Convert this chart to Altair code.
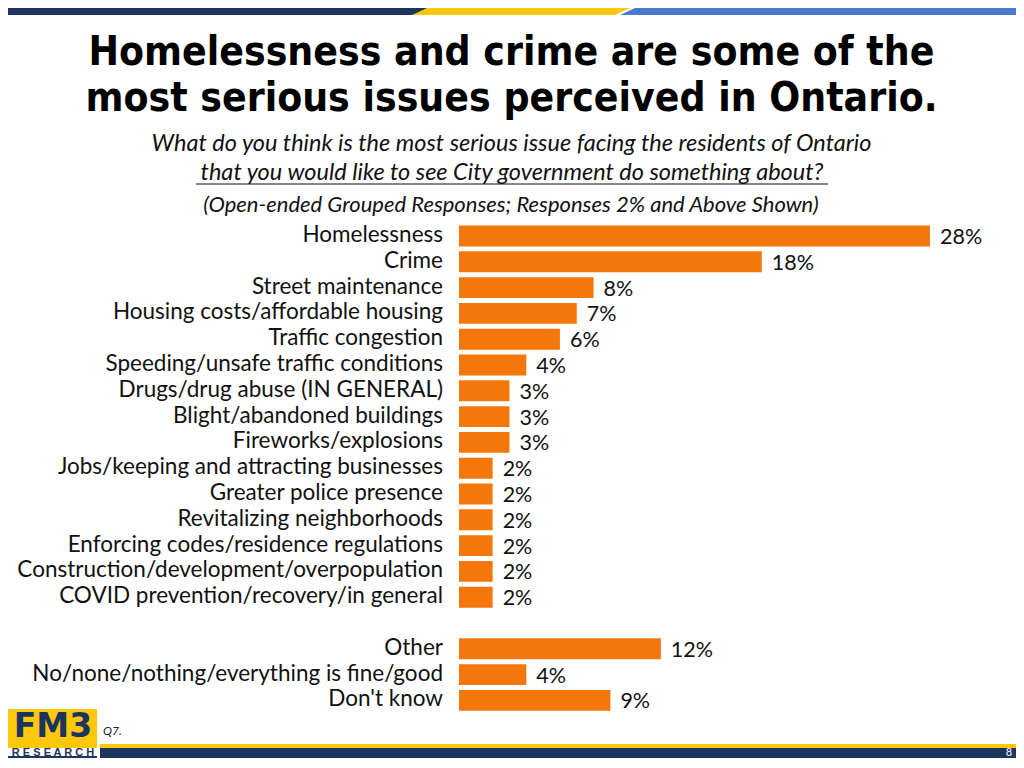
import altair as alt
import pandas as pd

# ---------------- data ----------------
categories = [
    "Homelessness",
    "Crime",
    "Street maintenance",
    "Housing costs/affordable housing",
    "Traffic congestion",
    "Speeding/unsafe traffic conditions",
    "Drugs/drug abuse (IN GENERAL)",
    "Blight/abandoned buildings",
    "Fireworks/explosions",
    "Jobs/keeping and attracting businesses",
    "Greater police presence",
    "Revitalizing neighborhoods",
    "Enforcing codes/residence regulations",
    "Construction/development/overpopulation",
    "COVID prevention/recovery/in general",
]
values = [28, 18, 8, 7, 6, 4, 3, 3, 3, 2, 2, 2, 2, 2, 2]

other_categories = ["Other", "No/none/nothing/everything is fine/good", "Don't know"]
other_values = [12, 4, 9]

title_lines = ["Homelessness and crime are some of the",
               "most serious issues perceived in Ontario."]
question_line1 = "What do you think is the most serious issue facing the residents of Ontario"
question_line2 = "that you would like to see City government do something about?"
note_line = "(Open-ended Grouped Responses; Responses 2% and Above Shown)"
footnote = "Q7."
page_number = "8"

# ---------------- styles ----------------
NAVY = "#1C355E"
YELLOW = "#FDC70C"
BLUE = "#4A7BC8"
ORANGE = "#F5760A"
TITLE_FONT = "DejaVu Sans Condensed, DejaVu Sans"
BODY_FONT = "Lato"

W, H = 1008, 750

spacer = " "
domain = categories + [spacer] + other_categories

df = pd.DataFrame({"category": categories + other_categories,
                   "value": values + other_values})
df["label"] = df["value"].astype(str) + "%"

one = pd.DataFrame({"k": [0]})

y_scale = alt.Scale(domain=domain, range=[215.1, 705.3],
                    paddingInner=0.19, paddingOuter=0.095)
x_scale = alt.Scale(domain=[0, 28], range=[451, 922])

base = alt.Chart(df)

bars = base.mark_bar(color=ORANGE).encode(
    x=alt.X("value:Q", scale=x_scale, axis=None),
    y=alt.Y("category:N", scale=y_scale, axis=None),
)

value_text = base.mark_text(align="left", baseline="middle", dx=10, dy=2,
                            font=BODY_FONT, fontSize=21.5, color="#111111").encode(
    x=alt.X("value:Q", scale=x_scale, axis=None),
    y=alt.Y("category:N", scale=y_scale, axis=None),
    text="label:N",
)

cat_text = base.mark_text(align="right", baseline="middle", dy=-1,
                          font=BODY_FONT, fontSize=22.5, color="#111111").encode(
    x=alt.value(435),
    y=alt.Y("category:N", scale=y_scale, axis=None),
    text="category:N",
)


def txt(s, x, y, **kw):
    return alt.Chart(one).mark_text(text=s, **kw).encode(x=alt.value(x), y=alt.value(y))


def rect(x, x2, y, y2, color):
    return alt.Chart(one).mark_rect(color=color, opacity=1).encode(
        x=alt.value(x), x2=alt.value(x2), y=alt.value(y), y2=alt.value(y2))


def poly(path, color):
    return alt.Chart(one).mark_point(shape=path, size=4, filled=True, fill=color,
                                     opacity=1, strokeWidth=0).encode(
        x=alt.value(0), y=alt.value(0))


title1 = txt(title_lines[0], 503.5, 44.5, font=TITLE_FONT, fontWeight="bold", fontSize=40.5,
             align="center", baseline="middle", color="#000000")
title2 = txt(title_lines[1], 503.5, 90.5, font=TITLE_FONT, fontWeight="bold", fontSize=40.5,
             align="center", baseline="middle", color="#000000")
q1 = txt(question_line1, 503.5, 136, font=BODY_FONT, fontStyle="italic", fontSize=23.5,
         align="center", baseline="middle", color="#111111")
q2 = txt(question_line2, 504, 165, font=BODY_FONT, fontStyle="italic", fontSize=23.5,
         align="center", baseline="middle", color="#111111")
underline = alt.Chart(one).mark_rule(color="#111111", strokeWidth=1.2).encode(
    x=alt.value(188), x2=alt.value(820), y=alt.value(176))
note = txt(note_line, 503, 197, font=BODY_FONT, fontStyle="italic", fontSize=22,
           align="center", baseline="middle", color="#111111")

# decorative banner (top)
banner = [
    rect(0, W, 0, 7, NAVY),
    poly("M419,0L1008,0L1008,7L404,7Z", YELLOW),
    poly("M622,0L1008,0L1008,7L607,7Z", "#FFFFFF"),
    poly("M627,0L1008,0L1008,7L612,7Z", BLUE),
]

# footer
footer = [
    rect(92, W, 736, 740, YELLOW),
    rect(92, W, 740, H, NAVY),
    rect(0, 89, 701, 740, YELLOW),
    rect(0, 89, 748, H, NAVY),
    txt("FM3", 45, 729, font="DejaVu Sans", fontWeight="bold", fontSize=33,
        align="center", baseline="alphabetic", color=NAVY),
    txt("R E S E A R C H", 45, 748, font="Liberation Sans", fontWeight="bold", fontSize=11,
        align="center", baseline="alphabetic", color=NAVY),
    txt(footnote, 95, 723, font=BODY_FONT, fontStyle="italic", fontSize=12,
        align="left", baseline="middle", color="#222222"),
    txt(page_number, 1001, 744.5, font=BODY_FONT, fontSize=11,
        align="center", baseline="middle", color="#FFFFFF"),
]

chart = alt.layer(
    *banner, *footer,
    title1, title2, q1, q2, underline, note,
    bars, value_text, cat_text,
).properties(
    width=W, height=H,
    autosize=alt.AutoSizeParams(type="none"),
    padding=0,
).configure_view(stroke=None)

chart.save("out.html", embed_options={"renderer": "svg", "actions": False})
